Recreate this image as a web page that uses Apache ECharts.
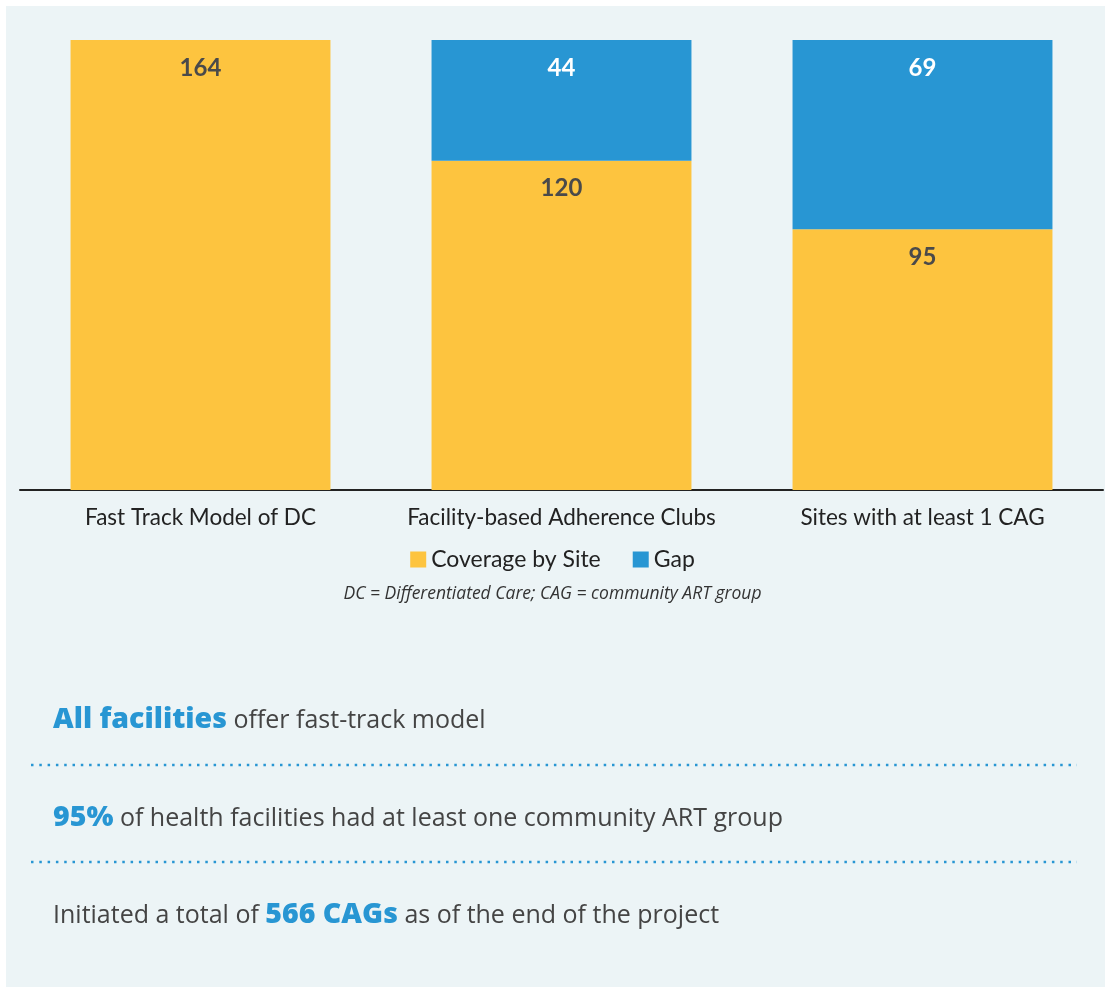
<!DOCTYPE html>
<html>
<head>
<meta charset="utf-8">
<script src="https://cdn.jsdelivr.net/npm/echarts@6/dist/echarts.min.js"></script>
<style>
  html, body { margin: 0; padding: 0; background: #fff; }
  #chart { width: 1105px; height: 987px; }
</style>
</head>
<body>
<div id="chart"></div>
<script>
const categories = ["Fast Track Model of DC", "Facility-based Adherence Clubs", "Sites with at least 1 CAG"];
const coverage = [164, 120, 95];
const gap = [null, 44, 69];
const seriesNames = ["Coverage by Site", "Gap"];
const footnote = "DC = Differentiated Care; CAG = community ART group";

const yellow = "#fdc43f";
const blue = "#2896d3";
const font = "Lato";
const bodyFont = "Open Sans";

const chart = echarts.init(document.getElementById("chart"));

const labelStyle = (color) => ({
  show: true,
  position: "insideTop",
  distance: 16,
  color: color,
  fontFamily: font,
  fontWeight: "bold",
  fontSize: 24,
});

const dotted = (y) => ({
  type: "line",
  shape: { x1: 31, y1: y, x2: 1077, y2: y },
  style: { stroke: blue, lineWidth: 2.5, lineDash: [2.5, 5.8] },
});

const rich = {
  b: { fontFamily: bodyFont, fontWeight: 800, fontSize: 28.5, fill: blue, verticalAlign: "bottom" },
  t: { fontFamily: bodyFont, fontSize: 25, fill: "#444", verticalAlign: "bottom", padding: [0, 0, 1.5, 0] },
};

const note = (y, parts) => ({
  type: "text",
  x: 53,
  y: y,
  style: {
    text: parts,
    rich: rich,
    verticalAlign: "middle",
  },
});

chart.setOption({
  backgroundColor: "#fff",
  animation: false,
  grid: { left: 20, right: 2, top: 40, bottom: 497 },
  legend: {
    data: seriesNames,
    top: 543,
    left: "center",
    itemWidth: 16,
    itemHeight: 16,
    itemGap: 32,
    icon: "rect",
    textStyle: { fontFamily: font, fontSize: 23, color: "#222" },
  },
  xAxis: {
    type: "category",
    data: categories,
    axisLine: { lineStyle: { color: "#222", width: 2 } },
    axisTick: { show: false },
    axisLabel: { interval: 0, fontFamily: font, fontSize: 22.5, color: "#222", margin: 16 },
  },
  yAxis: {
    type: "value",
    min: 0,
    max: 164,
    show: false,
    splitLine: { show: false },
  },
  series: [
    {
      name: seriesNames[0],
      type: "bar",
      stack: "s",
      barWidth: "72%",
      data: coverage,
      itemStyle: { color: yellow },
      label: labelStyle("#4a4a4a"),
    },
    {
      name: seriesNames[1],
      type: "bar",
      stack: "s",
      barWidth: "72%",
      data: gap,
      itemStyle: { color: blue },
      label: labelStyle("#fff"),
    },
  ],
  graphic: [
    {
      type: "rect",
      z: -10,
      shape: { x: 6, y: 6, width: 1099, height: 981 },
      style: { fill: "#ecf4f6" },
    },
    {
      type: "text",
      left: "center",
      top: 585,
      style: {
        text: footnote,
        fontFamily: bodyFont,
        fontStyle: "italic",
        fontSize: 17.5,
        fill: "#333",
      },
    },
    note(720, "{b|All facilities}{t| offer fast-track model}"),
    dotted(765),
    note(818, "{b|95%}{t| of health facilities had at least one community ART group}"),
    dotted(862),
    note(915, "{t|Initiated a total of }{b|566 CAGs}{t| as of the end of the project}"),
  ],
});
</script>
</body>
</html>
